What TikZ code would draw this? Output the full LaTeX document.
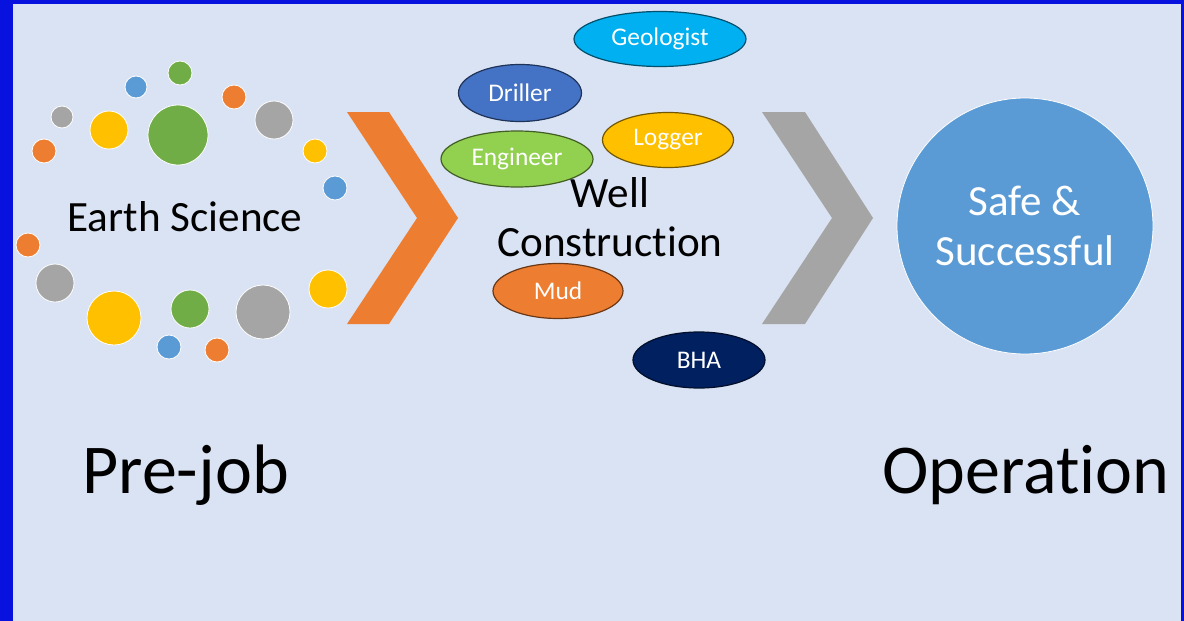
\documentclass[tikz,border=0pt]{standalone}
\usepackage{fontspec}
\setmainfont{Carlito}[Ligatures=NoCommon]
\usetikzlibrary{shapes.geometric}
\definecolor{frameblue}{RGB}{8,18,222}
\definecolor{slidebg}{RGB}{218,227,243}
\definecolor{accOrange}{RGB}{237,125,49}
\definecolor{accGray}{RGB}{165,165,165}
\definecolor{accYellow}{RGB}{255,192,0}
\definecolor{accBlue}{RGB}{91,155,213}
\definecolor{accGreen}{RGB}{112,173,71}
\definecolor{skyBlue}{RGB}{0,176,240}
\definecolor{darkBlue}{RGB}{68,114,196}
\definecolor{lightGreen}{RGB}{146,208,80}
\definecolor{navy}{RGB}{0,32,96}
\begin{document}
\begin{tikzpicture}[x=0.5pt, y=-0.5pt,
        bubble/.style={circle, draw=white, line width=0.4pt, inner sep=0pt, fill=#1},% earth science dot
        role/.style={ellipse, fill=#1, draw=#1!45!black, line width=0.6pt, inner sep=0pt,
            text=white, font=\fontsize{12.7}{15}\selectfont},% crew member
        title/.style={inner sep=0pt, font=\fontsize{21.6}{24.5}\selectfont},% middle texts
        phase/.style={inner sep=0pt, anchor=base west, font=\fontsize{35}{40}\selectfont},% stage names
    ]
    % slide
    \fill[frameblue] (0,0) rectangle (1184,621);
    \fill[slidebg] (13,4) rectangle (1181,621);

    % earth science dots
    \node[bubble=accGreen, minimum size=12pt] (dotA) at (180,73) {};
    \node[bubble=accBlue, minimum size=11pt] (dotB) at (136,87) {};
    \node[bubble=accOrange, minimum size=12pt] (dotC) at (234,97) {};
    \node[bubble=accGray, minimum size=11pt] (dotD) at (62,117) {};
    \node[bubble=accYellow, minimum size=19pt] (dotE) at (109,130) {};
    \node[bubble=accGreen, minimum size=30pt] (dotF) at (178,135) {};
    \node[bubble=accGray, minimum size=19pt] (dotG) at (274,120) {};
    \node[bubble=accOrange, minimum size=12pt] (dotH) at (44,151) {};
    \node[bubble=accYellow, minimum size=12pt] (dotI) at (315,151) {};
    \node[bubble=accBlue, minimum size=12pt] (dotJ) at (335,188) {};
    \node[bubble=accOrange, minimum size=12pt] (dotK) at (28,245) {};
    \node[bubble=accGray, minimum size=19pt] (dotL) at (55,283) {};
    \node[bubble=accYellow, minimum size=27pt] (dotM) at (114,318) {};
    \node[bubble=accGreen, minimum size=19pt] (dotN) at (190,309) {};
    \node[bubble=accGray, minimum size=27pt] (dotO) at (263,312) {};
    \node[bubble=accYellow, minimum size=19pt] (dotP) at (328,289) {};
    \node[bubble=accBlue, minimum size=12pt] (dotQ) at (169,347) {};
    \node[bubble=accOrange, minimum size=12pt] (dotR) at (217,350) {};
    \node[title, anchor=base] (earthScience) at (185,231) {Earth Science};

    % chevrons
    \fill[accOrange] (347,112) -- (389,112) -- (458,218) -- (389,324) -- (347,324) -- (417,218) -- cycle;
    \fill[accGray] (762,112) -- (805,112) -- (873,218) -- (805,324) -- (762,324) -- (832,218) -- cycle;

    % well construction crew
    \node[role=skyBlue, minimum width=86pt, minimum height=27.5pt] (geologist) at (660,39) {Geologist};
    \node[role=darkBlue, minimum width=61.5pt, minimum height=28.5pt] (driller) at (520,93) {Driller};
    \node[role=accYellow, minimum width=65.5pt, minimum height=27.5pt] (logger) at (668,140) {Logger};
    \node[role=lightGreen, minimum width=76pt, minimum height=28pt] (engineer) at (517,159) {Engineer};
    \node[role=accOrange, minimum width=65pt, minimum height=27.5pt] (mud) at (558,291) {Mud};
    \node[role=navy, minimum width=66pt, minimum height=28pt] (bha) at (699,360) {BHA};
    \node[title, align=center] (wellConstruction) at (610,217) {Well\\Construction};

    % result
    \node[circle, fill=accBlue, draw=white, line width=0.4pt, minimum size=128pt, inner sep=0pt,
        text=white, align=center, font=\fontsize{21.5}{25}\selectfont] (safe) at (1025,226) {Safe \&\\Successful};

    % stages
    \node[phase] (preJob) at (82,493) {Pre-job};
    \node[phase] (operation) at (882,493) {Operation};
\end{tikzpicture}
\end{document}
